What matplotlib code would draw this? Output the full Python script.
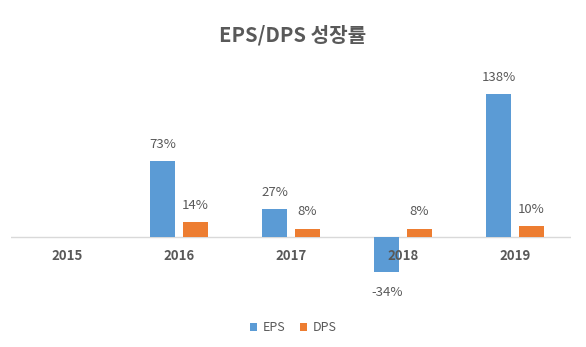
import numpy as np
import matplotlib.pyplot as plt

plt.rcParams['font.family'] = ['Noto Sans CJK KR', 'DejaVu Sans']

years = ['2015', '2016', '2017', '2018', '2019']
eps = [np.nan, 73, 27, -34, 138]
dps = [np.nan, 14, 8, 8, 10]

blue = '#5B9BD5'
orange = '#ED7D31'
gray = '#595959'

fig = plt.figure(figsize=(5.86, 3.47), dpi=100)
ax = fig.add_axes([0.0188, 0.1354, 0.9556, 0.6628])

x = np.arange(len(years))
w = 0.22
gap = 0.035
b1 = ax.bar(x - w/2 - gap, eps, w, color=blue, label='EPS', zorder=2)
b2 = ax.bar(x + w/2 + gap, dps, w, color=orange, label='DPS', zorder=2)

# value labels above / below the bars
for bars, vals in [(b1, eps), (b2, dps)]:
    for r, v in zip(bars, vals):
        if np.isnan(v):
            continue
        cx = r.get_x() + r.get_width()/2
        off = 12 if v >= 0 else -14.5
        ax.annotate(f'{v:.0f}%', (cx, v), xytext=(0, off), textcoords='offset points',
                    ha='center', va='center', fontsize=9.5, color=gray)

ax.set_xlim(-0.5, len(years) - 0.5)
ax.set_ylim(-61, 161)
ax.axhline(0, color='#D9D9D9', lw=1, zorder=1)
ax.set_yticks([])
ax.set_xticks([])
for s in ax.spines.values():
    s.set_visible(False)

# year labels sit just under the zero line, on top of the bars
for xi, yr in zip(x, years):
    ax.annotate(yr, (xi, 0), xytext=(0, -13.5), textcoords='offset points',
                ha='center', va='center', fontsize=9.5, fontweight='bold', color=gray,
                zorder=5)

fig.text(0.5, 0.9, 'EPS/DPS 성장률', ha='center', va='center', fontsize=14.5,
         fontweight='bold', color=gray)

fig.legend(handles=[b1, b2], labels=['EPS', 'DPS'], loc='center', bbox_to_anchor=(0.5, 0.055),
           ncol=2, frameon=False, fontsize=9, handlelength=0.6, handleheight=0.6,
           handletextpad=0.4, columnspacing=1.2, labelcolor=gray)

fig.savefig('out.png', dpi=100)
